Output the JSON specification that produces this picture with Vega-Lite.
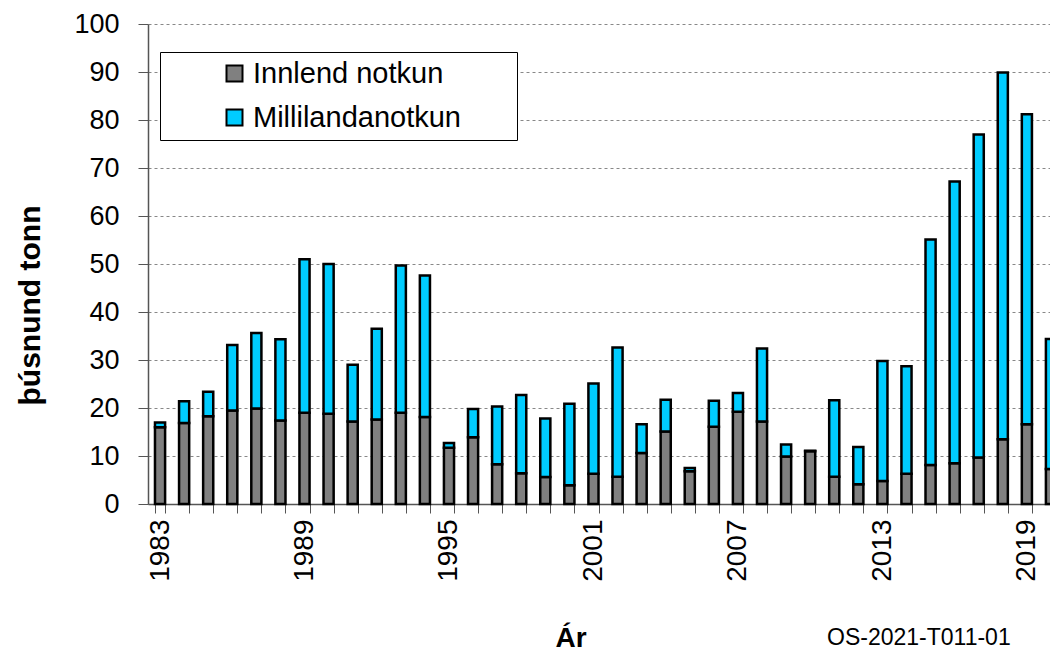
{
  "$schema": "https://vega.github.io/schema/vega-lite/v6.json",
  "autosize": {"type": "none"},
  "padding": {"left": 148, "top": 24, "right": -13, "bottom": 148},
  "width": 915,
  "height": 480,
  "background": "white",
  "title": {
    "text": "OS-2021-T011-01",
    "orient": "bottom",
    "anchor": "start",
    "dx": 812,
    "offset": -25,
    "fontSize": 23,
    "fontWeight": "normal",
    "font": "Liberation Sans",
    "color": "black"
  },
  "data": {
    "values": [
      {"year": 1983, "type": "Innlend notkun", "value": 16.0}, {"year": 1983, "type": "Millilandanotkun", "value": 1.0},
      {"year": 1984, "type": "Innlend notkun", "value": 16.9}, {"year": 1984, "type": "Millilandanotkun", "value": 4.5},
      {"year": 1985, "type": "Innlend notkun", "value": 18.3}, {"year": 1985, "type": "Millilandanotkun", "value": 5.1},
      {"year": 1986, "type": "Innlend notkun", "value": 19.5}, {"year": 1986, "type": "Millilandanotkun", "value": 13.6},
      {"year": 1987, "type": "Innlend notkun", "value": 19.9}, {"year": 1987, "type": "Millilandanotkun", "value": 15.7},
      {"year": 1988, "type": "Innlend notkun", "value": 17.4}, {"year": 1988, "type": "Millilandanotkun", "value": 16.9},
      {"year": 1989, "type": "Innlend notkun", "value": 19.0}, {"year": 1989, "type": "Millilandanotkun", "value": 32.0},
      {"year": 1990, "type": "Innlend notkun", "value": 18.8}, {"year": 1990, "type": "Millilandanotkun", "value": 31.2},
      {"year": 1991, "type": "Innlend notkun", "value": 17.2}, {"year": 1991, "type": "Millilandanotkun", "value": 11.8},
      {"year": 1992, "type": "Innlend notkun", "value": 17.6}, {"year": 1992, "type": "Millilandanotkun", "value": 18.9},
      {"year": 1993, "type": "Innlend notkun", "value": 19.0}, {"year": 1993, "type": "Millilandanotkun", "value": 30.7},
      {"year": 1994, "type": "Innlend notkun", "value": 18.1}, {"year": 1994, "type": "Millilandanotkun", "value": 29.5},
      {"year": 1995, "type": "Innlend notkun", "value": 11.7}, {"year": 1995, "type": "Millilandanotkun", "value": 1.0},
      {"year": 1996, "type": "Innlend notkun", "value": 13.9}, {"year": 1996, "type": "Millilandanotkun", "value": 5.9},
      {"year": 1997, "type": "Innlend notkun", "value": 8.3}, {"year": 1997, "type": "Millilandanotkun", "value": 12.0},
      {"year": 1998, "type": "Innlend notkun", "value": 6.4}, {"year": 1998, "type": "Millilandanotkun", "value": 16.3},
      {"year": 1999, "type": "Innlend notkun", "value": 5.6}, {"year": 1999, "type": "Millilandanotkun", "value": 12.2},
      {"year": 2000, "type": "Innlend notkun", "value": 3.9}, {"year": 2000, "type": "Millilandanotkun", "value": 17.0},
      {"year": 2001, "type": "Innlend notkun", "value": 6.3}, {"year": 2001, "type": "Millilandanotkun", "value": 18.8},
      {"year": 2002, "type": "Innlend notkun", "value": 5.7}, {"year": 2002, "type": "Millilandanotkun", "value": 26.9},
      {"year": 2003, "type": "Innlend notkun", "value": 10.6}, {"year": 2003, "type": "Millilandanotkun", "value": 6.0},
      {"year": 2004, "type": "Innlend notkun", "value": 15.1}, {"year": 2004, "type": "Millilandanotkun", "value": 6.6},
      {"year": 2005, "type": "Innlend notkun", "value": 6.8}, {"year": 2005, "type": "Millilandanotkun", "value": 0.7},
      {"year": 2006, "type": "Innlend notkun", "value": 16.1}, {"year": 2006, "type": "Millilandanotkun", "value": 5.4},
      {"year": 2007, "type": "Innlend notkun", "value": 19.2}, {"year": 2007, "type": "Millilandanotkun", "value": 3.9},
      {"year": 2008, "type": "Innlend notkun", "value": 17.2}, {"year": 2008, "type": "Millilandanotkun", "value": 15.2},
      {"year": 2009, "type": "Innlend notkun", "value": 9.9}, {"year": 2009, "type": "Millilandanotkun", "value": 2.5},
      {"year": 2010, "type": "Innlend notkun", "value": 11.0}, {"year": 2010, "type": "Millilandanotkun", "value": 0.1},
      {"year": 2011, "type": "Innlend notkun", "value": 5.7}, {"year": 2011, "type": "Millilandanotkun", "value": 15.9},
      {"year": 2012, "type": "Innlend notkun", "value": 4.1}, {"year": 2012, "type": "Millilandanotkun", "value": 7.8},
      {"year": 2013, "type": "Innlend notkun", "value": 4.8}, {"year": 2013, "type": "Millilandanotkun", "value": 25.0},
      {"year": 2014, "type": "Innlend notkun", "value": 6.3}, {"year": 2014, "type": "Millilandanotkun", "value": 22.4},
      {"year": 2015, "type": "Innlend notkun", "value": 8.1}, {"year": 2015, "type": "Millilandanotkun", "value": 47.0},
      {"year": 2016, "type": "Innlend notkun", "value": 8.5}, {"year": 2016, "type": "Millilandanotkun", "value": 58.7},
      {"year": 2017, "type": "Innlend notkun", "value": 9.7}, {"year": 2017, "type": "Millilandanotkun", "value": 67.3},
      {"year": 2018, "type": "Innlend notkun", "value": 13.5}, {"year": 2018, "type": "Millilandanotkun", "value": 76.4},
      {"year": 2019, "type": "Innlend notkun", "value": 16.6}, {"year": 2019, "type": "Millilandanotkun", "value": 64.6},
      {"year": 2020, "type": "Innlend notkun", "value": 7.3}, {"year": 2020, "type": "Millilandanotkun", "value": 27.1}
    ]
  },
  "mark": {"type": "bar", "stroke": "black", "strokeWidth": 2.5},
  "encoding": {
    "x": {
      "field": "year",
      "type": "ordinal",
      "scale": {"paddingInner": 0.58, "paddingOuter": 0.29},
      "axis": {
        "title": "Ár",
        "titleFont": "Liberation Sans",
        "titleFontSize": 28,
        "titleFontWeight": "bold",
        "titleColor": "black",
        "titleAlign": "left",
        "titleAnchor": "start",
        "titleBaseline": "alphabetic",
        "titleX": 407,
        "titleY": 142,
        "labelExpr": "(datum.value - 1983) % 6 == 0 ? datum.label : ''",
        "labelAngle": 270,
        "labelAlign": "right",
        "labelBaseline": "middle",
        "labelFont": "Liberation Sans",
        "labelFontSize": 28,
        "labelColor": "black",
        "labelPadding": 6,
        "labelOverlap": false,
        "tickBand": "extent",
        "tickSize": 9,
        "tickColor": "#555555",
        "domainColor": "#555555",
        "domainWidth": 1.5,
        "grid": false
      }
    },
    "y": {
      "field": "value",
      "type": "quantitative",
      "stack": "zero",
      "scale": {"domain": [0, 100], "nice": false},
      "axis": {
        "title": "þúsnund tonn",
        "titleFont": "Liberation Sans",
        "titleFontSize": 30,
        "titleFontWeight": "bold",
        "titleColor": "black",
        "titleAlign": "center",
        "titleBaseline": "alphabetic",
        "titleAngle": 270,
        "titleX": -109,
        "titleY": 281,
        "values": [0, 10, 20, 30, 40, 50, 60, 70, 80, 90, 100],
        "labelFont": "Liberation Sans",
        "labelFontSize": 27,
        "labelColor": "black",
        "labelPadding": 19,
        "tickSize": 10,
        "tickColor": "#555555",
        "domainColor": "#555555",
        "domainWidth": 1.5,
        "grid": true,
        "gridColor": "#888888",
        "gridDash": [3, 3],
        "gridWidth": 1
      }
    },
    "color": {
      "field": "type",
      "type": "nominal",
      "scale": {"domain": ["Innlend notkun", "Millilandanotkun"], "range": ["#808080", "#00CCFF"]},
      "legend": {
        "title": null,
        "orient": "none",
        "legendX": 12,
        "legendY": 28,
        "fillColor": "white",
        "strokeColor": "black",
        "padding": 7,
        "symbolType": "square",
        "symbolSize": 256,
        "symbolStrokeColor": "black",
        "symbolStrokeWidth": 2,
        "symbolOffset": 53,
        "labelFont": "Liberation Sans",
        "labelFontSize": 29,
        "labelColor": "black",
        "labelOffset": 4,
        "labelLimit": 400,
        "rowPadding": 14,
        "labelExpr": "datum.label + '\u00a0\u00a0\u00a0\u00a0\u00a0\u00a0\u200b'"
      }
    },
    "order": {"field": "type", "type": "nominal", "sort": "ascending"}
  },
  "config": {
    "view": {"stroke": null},
    "font": "Liberation Sans"
  }
}
